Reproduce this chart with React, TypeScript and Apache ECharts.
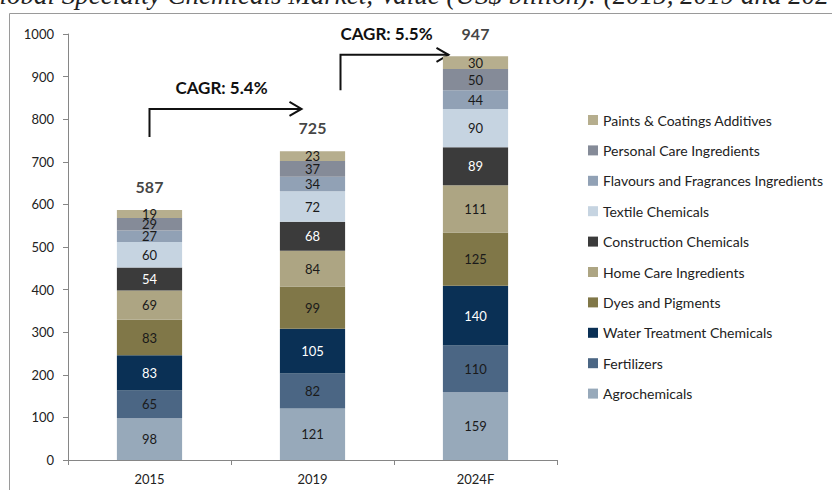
import React, { useEffect, useRef } from 'react';
import * as echarts from 'echarts';

const categories = ['2015', '2019', '2024F'];
const agrochemicals = [98, 121, 159];
const fertilizers = [65, 82, 110];
const waterTreatment = [83, 105, 140];
const dyesPigments = [83, 99, 125];
const homeCare = [69, 84, 111];
const construction = [54, 68, 89];
const textile = [60, 72, 90];
const flavours = [27, 34, 44];
const personalCare = [29, 37, 50];
const paints = [19, 23, 30];
const totals = [587, 725, 947];
const yTicks = { min: 0, max: 1000, interval: 100 };

const cagrNotes = [
  { text: 'CAGR: 5.4%', fromIdx: 0, toIdx: 1, baseVal: 758, topVal: 824, fromOff: 0, toOff: -11, labelOff: -4 },
  { text: 'CAGR: 5.5%', fromIdx: 1, toIdx: 2, baseVal: 868, topVal: 951, fromOff: 28, toOff: -27, labelOff: -8 },
];

const TITLE = 'Global Specialty Chemicals Market, Value (US$ billion): (2015, 2019 and 2024F)';
const FONT = 'Lato';

export default function App() {
  const ref = useRef<HTMLDivElement>(null);
  useEffect(() => {
    document.body.style.margin = '0';
    const chart = echarts.init(ref.current!, null, { renderer: 'svg' });
    const defs = [
      { name: 'Agrochemicals', data: agrochemicals, color: '#97A9BA', text: '#1a1a1a' },
      { name: 'Fertilizers', data: fertilizers, color: '#4B6684', text: '#1a1a1a' },
      { name: 'Water Treatment Chemicals', data: waterTreatment, color: '#0A3055', text: '#ffffff' },
      { name: 'Dyes and Pigments', data: dyesPigments, color: '#807748', text: '#1a1a1a' },
      { name: 'Home Care Ingredients', data: homeCare, color: '#ADA583', text: '#1a1a1a' },
      { name: 'Construction Chemicals', data: construction, color: '#3B3B3B', text: '#ffffff' },
      { name: 'Textile Chemicals', data: textile, color: '#C6D4E1', text: '#1a1a1a' },
      { name: 'Flavours and Fragrances Ingredients', data: flavours, color: '#91A1B5', text: '#1a1a1a' },
      { name: 'Personal Care Ingredients', data: personalCare, color: '#858B98', text: '#1a1a1a' },
      { name: 'Paints & Coatings Additives', data: paints, color: '#B6AE8E', text: '#1a1a1a' },
    ];
    const series: any[] = defs.map((d) => ({
      name: d.name,
      type: 'bar',
      stack: 'total',
      data: d.data,
      barWidth: '40%',
      itemStyle: { color: d.color },
      label: { show: true, position: 'inside', color: d.text, fontFamily: FONT, fontSize: 13 },
    }));
    series.push({
      name: 'Total',
      type: 'scatter',
      data: totals,
      symbolSize: 1,
      itemStyle: { color: 'transparent' },
      label: {
        show: true,
        position: 'top',
        distance: 15,
        color: '#111',
        fontFamily: FONT,
        fontWeight: 'bold',
        fontSize: 16,
        formatter: (p: any) => String(totals[p.dataIndex]),
      },
    });
    chart.setOption({
      animation: false,
      grid: { left: 68, right: 275, top: 34, bottom: 30 },
      xAxis: {
        type: 'category',
        data: categories,
        axisLine: { lineStyle: { color: '#868686' } },
        axisTick: { show: true, length: 5, lineStyle: { color: '#868686' } },
        axisLabel: { color: '#222', fontFamily: FONT, fontSize: 13, margin: 12 },
      },
      yAxis: {
        type: 'value',
        min: yTicks.min,
        max: yTicks.max,
        interval: yTicks.interval,
        splitLine: { show: false },
        axisLine: { show: true, lineStyle: { color: '#868686' } },
        axisTick: { show: true, length: 5, lineStyle: { color: '#868686' } },
        axisLabel: { color: '#222', fontFamily: FONT, fontSize: 13, margin: 14, formatter: (v: number) => String(v) },
      },
      legend: {
        orient: 'vertical',
        left: 583,
        top: 108,
        data: defs.map((d) => d.name).reverse(),
        itemWidth: 10,
        itemHeight: 10,
        itemGap: 16.4,
        icon: 'rect',
        textStyle: { color: '#222', fontFamily: FONT, fontSize: 14, lineHeight: 14 },
      },
      series,
    });

    const px = (idx: number, val: number) => chart.convertToPixel({ gridIndex: 0 }, [idx, val]) as number[];
    const graphics: any[] = [
      {
        type: 'rect',
        shape: { x: 9.5, y: 13.5, width: 900, height: 600 },
        style: { fill: 'none', stroke: '#9a9a9a', lineWidth: 1 },
        silent: true,
      },
      {
        type: 'text',
        style: {
          text: TITLE,
          x: -20,
          y: -5,
          font: 'italic 27px "Liberation Serif"',
          fill: '#222',
          verticalAlign: 'middle',
        },
      },
    ];
    cagrNotes.forEach((n) => {
      const a = px(n.fromIdx, n.baseVal);
      const t = px(n.fromIdx, n.topVal);
      const e = px(n.toIdx, n.topVal);
      const x0 = a[0] + n.fromOff;
      const x1 = e[0] + n.toOff;
      const yb = a[1];
      const yt = t[1];
      graphics.push({
        type: 'polyline',
        shape: { points: [[x0, yb], [x0, yt], [x1, yt]] },
        style: { stroke: '#111', lineWidth: 2, fill: 'none' },
      });
      graphics.push({
        type: 'polyline',
        shape: { points: [[x1 - 12, yt - 7], [x1, yt], [x1 - 12, yt + 7]] },
        style: { stroke: '#111', lineWidth: 2, fill: 'none' },
      });
      graphics.push({
        type: 'text',
        style: {
          text: n.text,
          x: (x0 + x1) / 2 + n.labelOff,
          y: yt - 21,
          align: 'center',
          verticalAlign: 'middle',
          font: `bold 17px ${FONT}`,
          fill: '#111',
        },
      });
    });
    chart.setOption({ graphic: graphics });
    return () => chart.dispose();
  }, []);
  return <div ref={ref} style={{ width: 832, height: 490 }} />;
}
